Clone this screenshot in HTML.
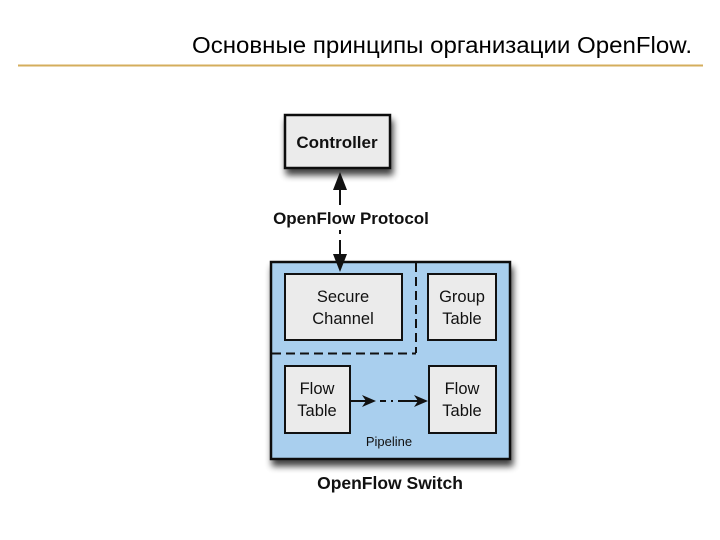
<!DOCTYPE html>
<html><head><meta charset="utf-8">
<style>
html,body{margin:0;padding:0;background:#fff;}
body{width:720px;height:540px;overflow:hidden;position:relative;font-family:"Liberation Sans",sans-serif;}
</style></head>
<body>
<svg width="720" height="540" viewBox="0 0 720 540" xmlns="http://www.w3.org/2000/svg" style="position:absolute;left:0;top:0">
<defs>
<filter id="sh" x="-20%" y="-20%" width="150%" height="150%">
<feGaussianBlur in="SourceAlpha" stdDeviation="3.5"/>
<feOffset dx="2" dy="6" result="b"/>
<feComponentTransfer><feFuncA type="linear" slope="0.75"/></feComponentTransfer>
<feMerge><feMergeNode/><feMergeNode in="SourceGraphic"/></feMerge>
</filter>
</defs>
<text x="692" y="53" text-anchor="end" font-family="Liberation Sans, sans-serif" font-size="23" fill="#000" textLength="500" lengthAdjust="spacingAndGlyphs">Основные принципы организации OpenFlow.</text>
<line x1="18" y1="65.5" x2="703" y2="65.5" stroke="#d4ae5c" stroke-width="2"/>

<rect x="285" y="115" width="105" height="53" fill="#ebebeb" stroke="#111" stroke-width="2.5" filter="url(#sh)"/>
<text x="337" y="148" text-anchor="middle" font-weight="bold" font-size="17" fill="#111">Controller</text>

<polygon points="340,172 333,190 347,190" fill="#111"/>
<line x1="340" y1="190" x2="340" y2="205" stroke="#111" stroke-width="2"/>
<text x="351" y="224" text-anchor="middle" font-weight="bold" font-size="17" fill="#111">OpenFlow Protocol</text>
<line x1="340" y1="230" x2="340" y2="234" stroke="#111" stroke-width="2"/>
<line x1="340" y1="240" x2="340" y2="254" stroke="#111" stroke-width="2"/>

<rect x="271" y="262" width="239" height="197" fill="#a9cfee" stroke="#111" stroke-width="2.5" filter="url(#sh)"/>
<polygon points="340,272 333,254 347,254" fill="#111"/>
<line x1="416" y1="263" x2="416" y2="353" stroke="#111" stroke-width="2" stroke-dasharray="9,5"/>
<line x1="272" y1="353.5" x2="416" y2="353.5" stroke="#111" stroke-width="2" stroke-dasharray="9,5"/>

<rect x="285" y="274" width="117" height="66" fill="#ebebeb" stroke="#111" stroke-width="2"/>
<text x="343" y="302" text-anchor="middle" font-size="16.5" fill="#111">Secure</text>
<text x="343" y="324" text-anchor="middle" font-size="16.5" fill="#111">Channel</text>

<rect x="428" y="274" width="68" height="66" fill="#ebebeb" stroke="#111" stroke-width="2"/>
<text x="462" y="302" text-anchor="middle" font-size="16.5" fill="#111">Group</text>
<text x="462" y="324" text-anchor="middle" font-size="16.5" fill="#111">Table</text>

<rect x="285" y="366" width="65" height="67" fill="#ebebeb" stroke="#111" stroke-width="2"/>
<text x="317" y="394" text-anchor="middle" font-size="16.5" fill="#111">Flow</text>
<text x="317" y="416" text-anchor="middle" font-size="16.5" fill="#111">Table</text>

<rect x="429" y="366" width="67" height="67" fill="#ebebeb" stroke="#111" stroke-width="2"/>
<text x="462" y="394" text-anchor="middle" font-size="16.5" fill="#111">Flow</text>
<text x="462" y="416" text-anchor="middle" font-size="16.5" fill="#111">Table</text>

<line x1="351" y1="401" x2="368" y2="401" stroke="#111" stroke-width="2"/>
<polygon points="376,401 362,395 366,401 362,407" fill="#111"/>
<line x1="380" y1="401" x2="386" y2="401" stroke="#111" stroke-width="2"/>
<line x1="391" y1="401" x2="393" y2="401" stroke="#111" stroke-width="2"/>
<line x1="398" y1="401" x2="420" y2="401" stroke="#111" stroke-width="2"/>
<polygon points="428,401 414,395 418,401 414,407" fill="#111"/>

<text x="389" y="446" text-anchor="middle" font-size="13" fill="#111">Pipeline</text>
<text x="390" y="489" text-anchor="middle" font-weight="bold" font-size="17.5" fill="#111">OpenFlow Switch</text>
</svg>
</body></html>
